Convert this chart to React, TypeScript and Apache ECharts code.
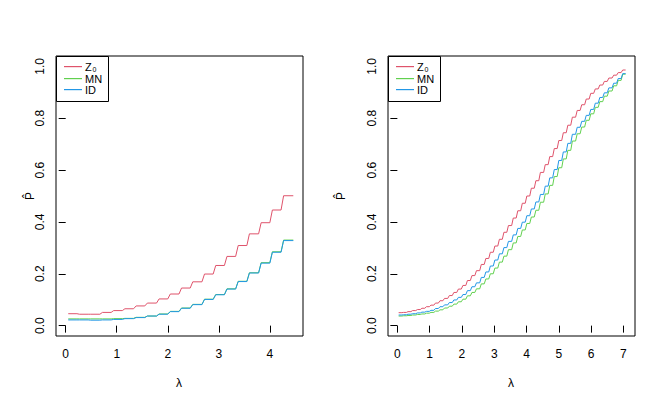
import React, { useEffect, useRef } from "react";
import * as echarts from "echarts";

// ---------- data ----------
const seriesNames = ["Z0", "MN", "ID"];
const seriesColors = ["#DF536B", "#61D04F", "#2297E6"];

// left panel: start of each flat step (lambda), end of the last step
const leftStepX = [0.05, 0.27, 0.49, 0.72, 0.94, 1.16, 1.38, 1.6, 1.83, 2.05, 2.27, 2.49, 2.72, 2.94, 3.16, 3.38, 3.6, 3.83, 4.05, 4.27];
const leftEndX = 4.46;
const leftZ0 = [0.046, 0.044, 0.044, 0.051, 0.058, 0.065, 0.076, 0.087, 0.103, 0.122, 0.145, 0.169, 0.199, 0.232, 0.267, 0.309, 0.354, 0.397, 0.446, 0.501];
const leftMN = [0.026, 0.026, 0.026, 0.026, 0.027, 0.028, 0.032, 0.037, 0.045, 0.055, 0.068, 0.082, 0.102, 0.12, 0.142, 0.171, 0.204, 0.243, 0.285, 0.33];
const leftID = [0.022, 0.022, 0.021, 0.022, 0.024, 0.027, 0.031, 0.037, 0.044, 0.054, 0.067, 0.081, 0.101, 0.119, 0.141, 0.17, 0.203, 0.241, 0.283, 0.328];

// right panel
const rightStepX = [0.04, 0.19, 0.33, 0.47, 0.62, 0.76, 0.9, 1.04, 1.18, 1.32, 1.46, 1.61, 1.75, 1.89, 2.03, 2.17, 2.31, 2.45, 2.6, 2.74, 2.88, 3.02, 3.16, 3.3, 3.44, 3.59, 3.73, 3.87, 4.01, 4.15, 4.29, 4.43, 4.58, 4.72, 4.86, 5.0, 5.14, 5.28, 5.42, 5.57, 5.71, 5.85, 5.99, 6.13, 6.27, 6.41, 6.55, 6.7, 6.84, 6.98];
const rightEndX = 7.07;
const rightZ0 = [0.05, 0.051, 0.054, 0.058, 0.062, 0.067, 0.073, 0.079, 0.087, 0.096, 0.105, 0.116, 0.128, 0.141, 0.155, 0.174, 0.193, 0.212, 0.236, 0.259, 0.283, 0.307, 0.333, 0.36, 0.386, 0.415, 0.443, 0.472, 0.5, 0.53, 0.559, 0.591, 0.621, 0.652, 0.683, 0.714, 0.744, 0.773, 0.804, 0.83, 0.852, 0.874, 0.896, 0.913, 0.928, 0.942, 0.955, 0.966, 0.976, 0.986];
const rightMN = [0.037, 0.038, 0.039, 0.041, 0.043, 0.045, 0.048, 0.051, 0.056, 0.061, 0.068, 0.075, 0.083, 0.092, 0.102, 0.115, 0.128, 0.142, 0.161, 0.18, 0.2, 0.222, 0.245, 0.268, 0.293, 0.319, 0.344, 0.369, 0.394, 0.419, 0.445, 0.476, 0.508, 0.541, 0.575, 0.609, 0.643, 0.676, 0.712, 0.74, 0.766, 0.792, 0.817, 0.842, 0.864, 0.885, 0.905, 0.925, 0.946, 0.97];
const rightID = [0.041, 0.042, 0.044, 0.046, 0.049, 0.052, 0.055, 0.059, 0.066, 0.073, 0.08, 0.089, 0.099, 0.109, 0.12, 0.135, 0.15, 0.165, 0.186, 0.207, 0.23, 0.253, 0.277, 0.301, 0.325, 0.35, 0.375, 0.399, 0.424, 0.45, 0.477, 0.506, 0.538, 0.57, 0.602, 0.637, 0.67, 0.703, 0.738, 0.765, 0.788, 0.811, 0.834, 0.858, 0.88, 0.898, 0.917, 0.935, 0.953, 0.972];

const riserWidth = 0.05;

const xTicksLeft = [0, 1, 2, 3, 4];
const xTicksRight = [0, 1, 2, 3, 4, 5, 6, 7];
const yTicks = [0, 0.2, 0.4, 0.6, 0.8, 1.0];

// ---------- helpers ----------
const FONT = "'Liberation Sans', Arial, Helvetica, sans-serif";

function stairs(xs: number[], end: number, vals: number[]) {
  const pts: number[][] = [];
  for (let i = 0; i < xs.length; i++) {
    const x0 = xs[i];
    const x1 = i + 1 < xs.length ? xs[i + 1] - riserWidth : end;
    pts.push([x0, vals[i]], [x1, vals[i]]);
  }
  return pts;
}

const G = [
  { left: 56, top: 56, width: 247, height: 280, xmin: -0.19, xmax: 4.65, ticks: xTicksLeft },
  { left: 388, top: 56, width: 247, height: 280, xmin: -0.29, xmax: 7.36, ticks: xTicksRight },
];

function legendElements(x0: number, y0: number) {
  const rowY = [11, 22.5, 34];
  const els: any[] = [
    {
      type: "rect",
      z: 100,
      shape: { x: x0 + 0.5, y: y0 + 0.5, width: 52, height: 45 },
      style: { fill: "#ffffff", stroke: "#000000", lineWidth: 1 },
    },
  ];
  seriesNames.forEach((n, i) => {
    els.push({
      type: "rect",
      z: 101,
      shape: { x: x0 + 8, y: y0 + Math.round(rowY[i]) - 1, width: 18, height: 1.2 },
      style: { fill: seriesColors[i] },
    });
    if (i === 0) {
      els.push({
        type: "text",
        z: 101,
        x: x0 + 29,
        y: y0 + rowY[i],
        style: { text: "Z", fontSize: 11, fontFamily: FONT, fill: "#000", textVerticalAlign: "middle" },
      });
      els.push({
        type: "text",
        z: 101,
        x: x0 + 36.5,
        y: y0 + rowY[i] + 2,
        style: { text: "0", fontSize: 7, fontFamily: FONT, fill: "#000", textVerticalAlign: "middle" },
      });
    } else {
      els.push({
        type: "text",
        z: 101,
        x: x0 + 29,
        y: y0 + rowY[i],
        style: { text: n, fontSize: 11, fontFamily: FONT, fill: "#000", textVerticalAlign: "middle" },
      });
    }
  });
  return els;
}

function buildOption() {
  const data = [
    [leftZ0, leftMN, leftID],
    [rightZ0, rightMN, rightID],
  ];
  const stepX = [leftStepX, rightStepX];
  const endX = [leftEndX, rightEndX];
  const series: any[] = [];
  for (let p = 0; p < 2; p++) {
    for (let s = 0; s < 3; s++) {
      series.push({
        type: "line",
        name: seriesNames[s],
        xAxisIndex: p,
        yAxisIndex: p,
        data: stairs(stepX[p], endX[p], data[p][s]),
        showSymbol: false,
        symbol: "none",
        lineStyle: { color: seriesColors[s], width: 1 },
        itemStyle: { color: seriesColors[s] },
        z: 2 + s,
      });
    }
  }
  return {
    animation: false,
    backgroundColor: "#fff",
    grid: G.map((g) => ({
      left: g.left,
      top: g.top,
      width: g.width,
      height: g.height,
      show: true,
      borderColor: "#000",
      borderWidth: 1,
      backgroundColor: "transparent",
    })),
    xAxis: G.map((g, i) => ({
      type: "value",
      gridIndex: i,
      min: g.xmin,
      max: g.xmax,
      axisLine: { show: false },
      splitLine: { show: false },
      axisTick: { show: true, inside: false, length: 7, customValues: g.ticks, lineStyle: { color: "#000", width: 1 } },
      axisLabel: {
        show: true,
        customValues: g.ticks,
        margin: 12,
        color: "#000",
        fontSize: 12,
        fontFamily: FONT,
        formatter: (v: number) => String(v),
      },
    })),
    yAxis: G.map((g, i) => ({
      type: "value",
      gridIndex: i,
      min: -0.04,
      max: 1.04,
      axisLine: { show: false },
      splitLine: { show: false },
      axisTick: { show: true, inside: false, length: 7, customValues: yTicks, lineStyle: { color: "#000", width: 1 } },
      axisLabel: {
        show: true,
        customValues: yTicks,
        rotate: 90,
        margin: 10,
        color: "#000",
        fontSize: 12,
        fontFamily: FONT,
        formatter: (v: number) => v.toFixed(1),
      },
    })),
    series,
    graphic: [
      ...legendElements(56, 56),
      ...legendElements(388, 56),
      {
        type: "text",
        x: 179,
        y: 383,
        style: { text: "λ", fontSize: 12, fontFamily: FONT, fill: "#000", textAlign: "center", textVerticalAlign: "middle" },
      },
      {
        type: "text",
        x: 511,
        y: 383,
        style: { text: "λ", fontSize: 12, fontFamily: FONT, fill: "#000", textAlign: "center", textVerticalAlign: "middle" },
      },
      {
        type: "text",
        x: 30,
        y: 196,
        rotation: Math.PI / 2,
        style: { text: "P\u0302", fontSize: 12, fontFamily: FONT, fill: "#000", textAlign: "center", textVerticalAlign: "middle" },
      },
      {
        type: "text",
        x: 341,
        y: 196,
        rotation: Math.PI / 2,
        style: { text: "P\u0302", fontSize: 12, fontFamily: FONT, fill: "#000", textAlign: "center", textVerticalAlign: "middle" },
      },
    ],
  };
}

export default function App() {
  const ref = useRef<HTMLDivElement>(null);
  useEffect(() => {
    if (!ref.current) return;
    const chart = echarts.init(ref.current, undefined, { renderer: "svg" });
    chart.setOption(buildOption() as any);
    return () => chart.dispose();
  }, []);
  return (
    <div
      ref={ref}
      style={{ position: "fixed", left: 0, top: 0, width: 664, height: 407, background: "#fff" }}
    />
  );
}
